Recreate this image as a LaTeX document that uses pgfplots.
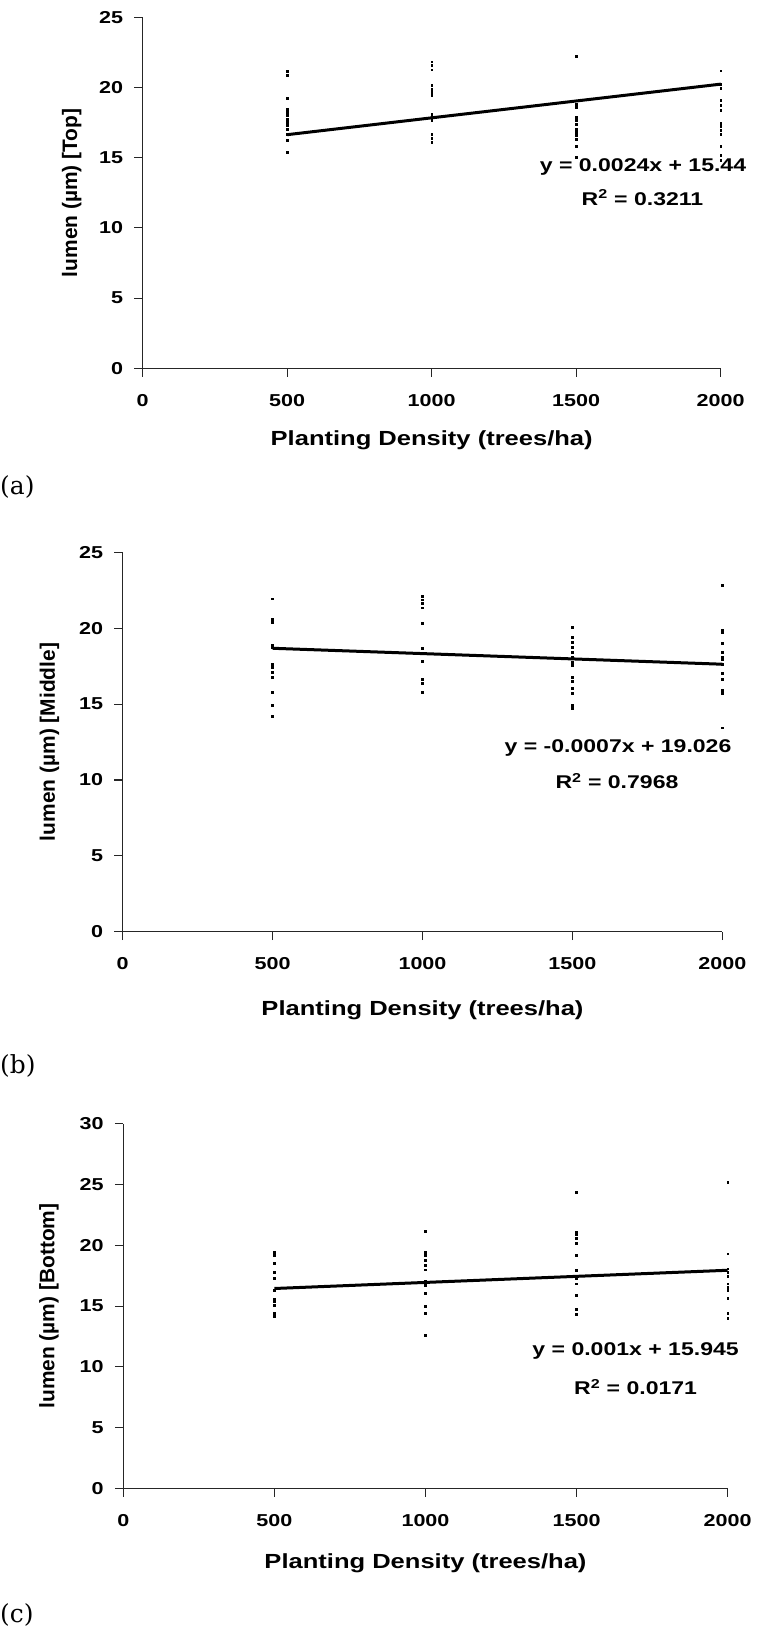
\documentclass[border=0pt]{standalone}
\usepackage{pgfplots}
\pgfplotsset{compat=1.18}
\usepackage{fontspec}
\newfontfamily\cf[FakeStretch=1.25]{Liberation Sans}
\newfontfamily\cfy{Liberation Sans}
\newfontfamily\lab{DejaVu Serif}

\pgfplotsset{panel/.style={
  scale only axis, clip=false,
  axis lines*=left, axis line style={-, line width=1.1bp, black!85},
  tick align=outside, major tick length=8.5bp, tick style={line width=1.1bp, black!85},
  xmin=0, xmax=2000, ymin=0, xtick={0,500,1000,1500,2000},
  scaled ticks=false, /pgf/number format/1000 sep={},
  /pgf/number format/assume math mode=true,
  ticklabel style={font=\fontsize{17.3}{20}\selectfont\cf\bfseries, inner sep=0pt},
  xticklabel style={anchor=north, yshift=-17bp},
  yticklabel style={anchor=east, xshift=-11bp},
},
pts/.style={only marks, mark=square*, mark size=0.95bp, black},
trend/.style={no marks, line width=3bp, black}}

\begin{document}
\begin{tikzpicture}
\path[use as bounding box] (0bp,0bp) rectangle (759bp,-1635bp);

% ---------------- (a) Top ----------------
\begin{axis}[panel, at={(142.7bp,-368.3bp)}, anchor=south west,
  width=578bp, height=351bp, ymax=25, ytick={0,5,10,15,20,25}]
\addplot[pts] coordinates {
 (500,21.15) (500,20.85) (500,19.23) (500,18.48) (500,18.24) (500,18.0) (500,17.77)
 (500,17.53) (500,17.29) (500,17.06) (500,16.65) (500,16.27) (500,15.4)
 (1000,21.84) (1000,21.56) (1000,21.27) (1000,20.14) (1000,19.9) (1000,19.66) (1000,19.42)
 (1000,18.12) (1000,17.88) (1000,17.7) (1000,16.7) (1000,16.42) (1000,16.1)
 (1500,22.2) (1500,18.83) (1500,18.6) (1500,17.88) (1500,17.65) (1500,17.41) (1500,17.06)
 (1500,16.82) (1500,16.58) (1500,16.35) (1500,15.82) (1500,15.04)
 (2000,21.2) (2000,20.26) (2000,19.97) (2000,19.12) (2000,18.71) (2000,18.36) (2000,17.46)
 (2000,17.22) (2000,16.94) (2000,16.7) (2000,15.82) (2000,15.16) (2000,14.8)
};
\addplot[trend] coordinates {(500,16.64) (2000,20.24)};
\end{axis}
\node[rotate=90, font=\fontsize{21}{24}\selectfont\cfy\bfseries] at (71.7bp,-192.8bp) {lumen (µm) [Top]};
\node[font=\fontsize{20.5}{24}\selectfont\cf\bfseries] at (431.7bp,-440bp) {Planting Density (trees/ha)};
\node[font=\fontsize{18.5}{22}\selectfont\cf\bfseries] at (643bp,-166.5bp) {y = 0.0024x + 15.44};
\node[font=\fontsize{18.5}{22}\selectfont\cf\bfseries] at (642.5bp,-197.5bp) {R\textsuperscript{2} = 0.3211};
\node[anchor=west, inner sep=0pt, font=\lab\fontsize{25}{30}\selectfont] at (0bp,-487bp) {(a)};

% ---------------- (b) Middle ----------------
\begin{axis}[panel, at={(122.7bp,-931.7bp)}, anchor=south west,
  width=599.6bp, height=379.4bp, ymax=25, ytick={0,5,10,15,20,25}]
\addplot[pts] coordinates {
 (500,21.94) (500,20.58) (500,20.41) (500,18.88) (500,18.77) (500,17.63) (500,17.45)
 (500,17.12) (500,16.8) (500,15.77) (500,14.93) (500,14.21)
 (1000,22.1) (1000,21.88) (1000,21.62) (1000,21.35) (1000,20.3) (1000,18.66) (1000,17.85)
 (1000,16.64) (1000,16.36) (1000,15.77)
 (1500,20.04) (1500,19.38) (1500,19.1) (1500,18.77) (1500,18.44) (1500,18.11) (1500,17.78)
 (1500,17.56) (1500,16.75) (1500,16.53) (1500,16.03) (1500,15.74) (1500,14.93) (1500,14.72)
 (2000,22.82) (2000,19.9) (2000,19.75) (2000,19.03) (2000,18.44) (2000,18.11) (2000,17.94)
 (2000,17.63) (2000,17.06) (2000,16.62) (2000,15.92) (2000,15.7) (2000,13.44)
};
\addplot[trend] coordinates {(500,18.676) (2000,17.626)};
\end{axis}
\node[rotate=90, font=\fontsize{21}{24}\selectfont\cfy\bfseries] at (49.4bp,-742bp) {lumen (µm) [Middle]};
\node[font=\fontsize{20.5}{24}\selectfont\cf\bfseries] at (422.5bp,-1010bp) {Planting Density (trees/ha)};
\node[font=\fontsize{18.5}{22}\selectfont\cf\bfseries] at (618bp,-748bp) {y = -0.0007x + 19.026};
\node[font=\fontsize{18.5}{22}\selectfont\cf\bfseries] at (617bp,-781bp) {R\textsuperscript{2} = 0.7968};
\node[anchor=west, inner sep=0pt, font=\lab\fontsize{25}{30}\selectfont] at (0bp,-1066bp) {(b)};

% ---------------- (c) Bottom ----------------
\begin{axis}[panel, at={(123.3bp,-1488.4bp)}, anchor=south west,
  width=604.4bp, height=364.7bp, ymax=30, ytick={0,5,10,15,20,25,30}]
\addplot[pts] coordinates {
 (500,19.45) (500,19.22) (500,18.54) (500,17.8) (500,17.3) (500,16.34) (500,15.6)
 (500,15.38) (500,15.05) (500,14.42) (500,14.15)
 (1000,21.15) (1000,19.45) (1000,19.17) (1000,18.76) (1000,18.35) (1000,17.99) (1000,17.03)
 (1000,16.7) (1000,16.07) (1000,15.02) (1000,14.42) (1000,12.64)
 (1500,24.39) (1500,21.09) (1500,20.87) (1500,20.6) (1500,20.19) (1500,19.22) (1500,17.93)
 (1500,17.3) (1500,16.84) (1500,15.93) (1500,14.75) (1500,14.34)
 (2000,25.21) (2000,19.31) (2000,18.07) (2000,17.8) (2000,17.44) (2000,16.84) (2000,16.56)
 (2000,16.34) (2000,15.66) (2000,14.42) (2000,14.01)
};
\addplot[trend] coordinates {(500,16.445) (2000,17.945)};
\end{axis}
\node[rotate=90, font=\fontsize{21}{24}\selectfont\cfy\bfseries] at (49bp,-1306bp) {lumen (µm) [Bottom]};
\node[font=\fontsize{20.5}{24}\selectfont\cf\bfseries] at (425.5bp,-1563bp) {Planting Density (trees/ha)};
\node[font=\fontsize{18.5}{22}\selectfont\cf\bfseries] at (635.6bp,-1351bp) {y = 0.001x + 15.945};
\node[font=\fontsize{18.5}{22}\selectfont\cf\bfseries] at (635.6bp,-1387bp) {R\textsuperscript{2} = 0.0171};
\node[anchor=west, inner sep=0pt, font=\lab\fontsize{25}{30}\selectfont] at (0bp,-1615bp) {(c)};
\end{tikzpicture}
\end{document}
